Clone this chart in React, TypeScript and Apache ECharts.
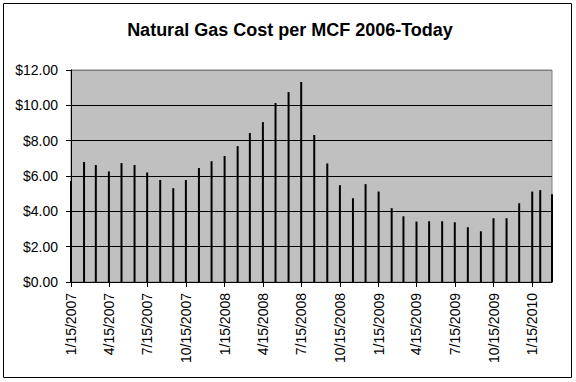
import React, { useEffect, useRef } from "react";
import * as echarts from "echarts";

const dates: string[] = [
  "1/15/2007", "2/15/2007", "3/15/2007", "4/15/2007", "5/15/2007", "6/15/2007",
  "7/15/2007", "8/15/2007", "9/15/2007", "10/15/2007", "11/15/2007", "12/15/2007",
  "1/15/2008", "2/15/2008", "3/15/2008", "4/15/2008", "5/15/2008", "6/15/2008",
  "7/15/2008", "8/15/2008", "9/15/2008", "10/15/2008", "11/15/2008", "12/15/2008",
  "1/15/2009", "2/15/2009", "3/15/2009", "4/15/2009", "5/15/2009", "6/15/2009",
  "7/15/2009", "8/15/2009", "9/15/2009", "10/15/2009", "11/15/2009", "12/15/2009",
  "1/15/2010", "2/3/2010", "3/3/2010",
];

const costs: number[] = [
  5.71, 6.79, 6.62, 6.26, 6.73, 6.62,
  6.2, 5.77, 5.31, 5.77, 6.45, 6.84,
  7.13, 7.69, 8.43, 9.05, 10.13, 10.75,
  11.32, 8.32, 6.71, 5.48, 4.74, 5.54,
  5.12, 4.18, 3.72, 3.42, 3.44, 3.44,
  3.38, 3.1, 2.87, 3.61, 3.61, 4.46,
  5.12, 5.2, 4.97,
];

const tickLabels: string[] = [
  "1/15/2007", "4/15/2007", "7/15/2007", "10/15/2007",
  "1/15/2008", "4/15/2008", "7/15/2008", "10/15/2008",
  "1/15/2009", "4/15/2009", "7/15/2009", "10/15/2009",
  "1/15/2010",
];

const DAY = 86400000;
const utc = (s: string): number => {
  const [m, d, y] = s.split("/").map(Number);
  return Date.UTC(y, m - 1, d);
};
const T0 = utc(dates[0]);
const dayOf = (s: string): number => Math.round((utc(s) - T0) / DAY);
const fmtDay = (v: number): string => {
  const dt = new Date(T0 + Math.round(v) * DAY);
  return `${dt.getUTCMonth() + 1}/${dt.getUTCDate()}/${dt.getUTCFullYear()}`;
};

const FONT = 'Arial, "Liberation Sans", sans-serif';

export default function App() {
  const ref = useRef<HTMLDivElement>(null);

  useEffect(() => {
    if (!ref.current) return;
    const chart = echarts.init(ref.current, undefined, { renderer: "svg" });
    const days = dates.map(dayOf);
    const tickDays = tickLabels.map(dayOf);
    chart.setOption({
      animation: false,
      backgroundColor: "#ffffff",
      title: {
        text: "Natural Gas Cost per MCF 2006-Today",
        left: 285,
        top: 16,
        textAlign: "center",
        textStyle: {
          fontFamily: FONT,
          fontSize: 18,
          fontWeight: "bold",
          color: "#000",
        },
      },
      graphic: [
        {
          type: "rect",
          shape: { x: 3.5, y: 3.5, width: 568, height: 374 },
          style: { fill: "none", stroke: "#000", lineWidth: 1 },
          silent: true,
          z: 100,
        },
      ],
      grid: {
        left: 71,
        right: 24,
        top: 70,
        bottom: 100,
        show: true,
        backgroundColor: "#C0C0C0",
        borderColor: "#808080",
        borderWidth: 1,
      },
      xAxis: {
        type: "value",
        min: 0,
        max: days[days.length - 1],
        axisLine: { show: true, onZero: false, lineStyle: { color: "#000", width: 1 } },
        axisTick: {
          show: true,
          inside: false,
          length: 5,
          customValues: tickDays,
          lineStyle: { color: "#000" },
        },
        axisLabel: {
          customValues: tickDays,
          formatter: (v: number) => fmtDay(v),
          rotate: 90,
          margin: 11,
          fontFamily: FONT,
          fontSize: 14,
          color: "#000",
        },
        splitLine: { show: false },
      },
      yAxis: {
        type: "value",
        min: 0,
        max: 12,
        interval: 2,
        axisLine: { show: true, lineStyle: { color: "#000", width: 1 } },
        axisTick: { show: true, inside: false, length: 5, lineStyle: { color: "#000" } },
        axisLabel: {
          formatter: (v: number) => `$${v.toFixed(2)}`,
          margin: 13,
          fontFamily: FONT,
          fontSize: 14,
          color: "#000",
        },
        splitLine: {
          show: true,
          lineStyle: {
            color: ["#000", "#000", "#000", "#000", "#000", "#000", "#808080"],
            width: 1,
          },
        },
      },
      series: [
        {
          type: "bar",
          data: days.map((d, i) => [d, costs[i]]),
          barWidth: 2,
          itemStyle: { color: "#000" },
          z: 3,
        },
      ],
    });
    return () => chart.dispose();
  }, []);

  return (
    <div
      ref={ref}
      style={{ position: "absolute", left: 0, top: 0, width: 576, height: 382 }}
    />
  );
}
